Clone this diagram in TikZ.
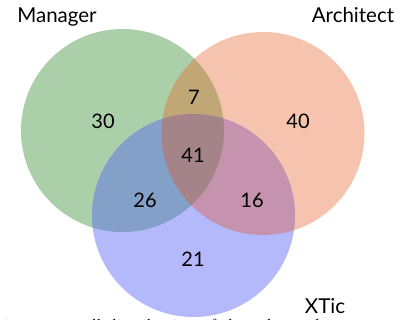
\documentclass[tikz,border=0pt]{standalone}
\usepackage{fontspec}
\setmainfont{Latin Modern Roman}
\newfontfamily\labfont{Lato}
\definecolor{cgreen}{HTML}{ABCFA9}
\definecolor{corange}{HTML}{F6C4AE}
\definecolor{cblue}{HTML}{B3B9FB}
\definecolor{cga}{HTML}{C1A676}
\definecolor{cgb}{HTML}{82A0C8}
\definecolor{cab}{HTML}{C593AE}
\definecolor{cgab}{HTML}{A48389}
\begin{document}
\begin{tikzpicture}[x=1pt,y=-1pt,
  lab/.style={font=\labfont\fontsize{20.5}{24}\selectfont, text=black, inner sep=0pt},
  num/.style={font=\labfont\fontsize{20}{24}\selectfont, text=black, inner sep=0pt}]
\useasboundingbox (0,0) rectangle (409,320);
\fill[white] (0,0) rectangle (409,320);
\def\R{101.5}
\coordinate (G) at (122.5,130.5);
\coordinate (A) at (263,133.5);
\coordinate (X) at (193.5,215.5);
\fill[cgreen] (G) circle (\R);
\fill[corange] (A) circle (\R);
\fill[cblue] (X) circle (\R);
\begin{scope}
  \clip (G) circle (\R);
  \fill[cga] (A) circle (\R);
  \fill[cgb] (X) circle (\R);
\end{scope}
\begin{scope}
  \clip (A) circle (\R);
  \fill[cab] (X) circle (\R);
\end{scope}
\begin{scope}
  \clip (G) circle (\R);
  \clip (A) circle (\R);
  \fill[cgab] (X) circle (\R);
\end{scope}
\node[lab, anchor=base] (lm) at (57,23) {Manager};
\node[lab, anchor=base] (la) at (353,23) {Architect};
\node[lab, anchor=base] (lx) at (325,313) {XTic};
\node[num] (n30) at (103,121) {30};
\node[num] (n7) at (194,97) {7};
\node[num] (n40) at (298,121) {40};
\node[num] (n41) at (193,155) {41};
\node[num] (n26) at (145,200) {26};
\node[num] (n16) at (252,200) {16};
\node[num] (n21) at (193,259) {21};
\node[anchor=base west, font=\fontsize{19}{22}\selectfont, inner sep=0pt] (cap) at (4,332) {i\quad an overall distribution of the roles and};
\end{tikzpicture}
\end{document}
